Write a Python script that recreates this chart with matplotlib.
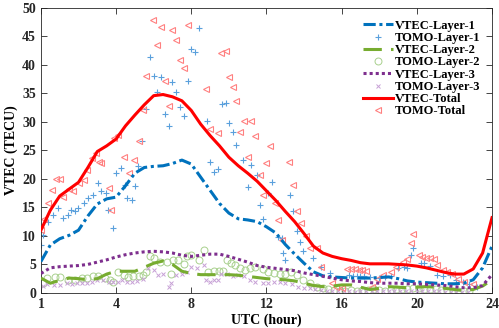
import numpy as np
import matplotlib
matplotlib.use("Agg")
import matplotlib.pyplot as plt

plt.rcParams['font.family'] = ['Liberation Serif', 'DejaVu Serif']
plt.rcParams['font.weight'] = 'bold'

# model curves, sampled every half hour (0..24 h)
t_line = np.arange(0, 24.5, 0.5)
vtec_total = [11.0, 14.5, 17.0, 18.2, 19.4, 22.0, 24.8, 25.8, 27.0, 29.3,
              31.2, 33.0, 34.6, 34.8, 34.4, 33.7, 32.0, 29.6, 27.6, 25.8,
              23.8, 22.3, 21.0, 19.6, 17.9, 16.2, 14.3, 12.5, 10.4, 8.2,
              7.0, 6.4, 6.0, 5.7, 5.3, 5.1, 5.1, 5.1, 5.0, 4.9,
              4.7, 4.4, 4.0, 3.6, 3.3, 3.3, 4.2, 7.0, 13.2]
vtec_l1 = [5.5, 8.4, 9.5, 10.1, 11.0, 13.5, 15.6, 16.5, 16.8, 18.8,
           21.0, 22.0, 22.2, 22.3, 22.7, 23.3, 22.6, 20.3, 18.0, 15.7,
           14.0, 13.0, 12.8, 12.5, 11.6, 10.5, 8.5, 6.8, 5.2, 3.7,
           3.0, 2.8, 2.7, 2.6, 2.6, 2.6, 2.7, 2.8, 2.5, 2.1,
           1.9, 1.8, 1.7, 1.6, 1.6, 1.7, 2.3, 4.4, 8.2]
vtec_l2 = [2.6, 1.7, 2.2, 2.6, 2.5, 2.3, 2.5, 3.3, 3.8, 3.8,
           3.8, 4.5, 5.2, 5.6, 5.0, 3.8, 3.4, 3.2, 3.2, 3.2,
           3.2, 3.1, 2.9, 2.7, 2.5, 2.4, 2.3, 2.1, 1.7, 1.3,
           1.1, 1.2, 1.4, 1.4, 1.0, 0.6, 0.8, 1.1, 1.0, 0.9,
           1.0, 1.1, 1.0, 0.8, 0.6, 0.4, 0.6, 1.2, 2.3]
vtec_l3 = [3.4, 4.4, 4.6, 4.7, 4.8, 5.0, 5.4, 5.8, 6.3, 6.7,
           7.0, 7.2, 7.3, 7.2, 7.0, 6.6, 6.4, 6.6, 6.8, 6.8,
           6.4, 5.9, 5.4, 4.8, 4.5, 4.3, 4.1, 3.9, 3.5, 3.2,
           2.9, 2.6, 2.3, 2.1, 2.0, 1.8, 1.7, 1.7, 1.7, 1.6,
           1.6, 1.5, 1.4, 1.3, 1.1, 0.9, 0.9, 1.3, 3.2]

# tomography estimates (hour, TECU)
tomo_total = [(0.0, 11.0), (0.15, 13.0), (0.4, 15.7), (0.6, 18.1), (0.8, 20.0), (1.0, 20.0),
              (1.2, 16.9), (1.5, 18.3), (1.7, 17.8), (2.0, 19.2), (2.3, 19.8), (2.45, 21.6),
              (2.7, 23.6), (2.95, 24.5), (3.1, 23.0), (3.2, 22.7), (3.6, 18.4), (3.75, 14.6),
              (3.9, 27.1), (4.1, 27.7), (4.4, 23.9), (4.7, 21.0), (4.95, 23.3), (5.2, 26.7),
              (5.45, 32.1), (5.6, 38.0), (5.97, 47.9), (6.2, 43.4), (6.4, 46.6), (6.6, 37.1),
              (6.8, 32.7), (7.0, 46.1), (7.2, 44.4), (7.4, 40.9), (7.6, 39.5), (7.8, 47.0),
              (8.8, 35.7), (9.0, 28.7), (9.4, 28.1), (9.6, 42.0), (9.85, 42.5), (10.0, 37.8),
              (10.2, 36.2), (10.4, 33.6), (10.6, 28.2), (10.8, 30.2), (11.0, 23.9), (11.2, 30.1),
              (11.4, 27.6), (11.65, 20.7), (11.8, 17.2), (12.0, 22.7), (12.2, 25.7), (12.45, 15.7),
              (12.6, 12.8), (12.8, 9.3), (13.2, 23.0), (13.4, 18.9), (13.6, 14.3), (13.85, 12.2),
              (14.1, 9.9), (14.3, 7.8), (14.7, 7.8), (14.9, 4.6), (15.5, 1.7), (15.7, 1.1),
              (16.0, 0.9), (16.3, 4.2), (16.5, 4.2), (16.7, 4.2), (16.9, 4.1), (17.1, 4.0),
              (17.3, 3.8), (17.6, 1.1), (17.9, 2.5), (18.2, 3.2), (18.6, 3.7), (18.9, 4.6),
              (19.25, 5.5), (19.5, 5.9), (19.7, 8.7), (19.8, 10.3), (20.1, 6.7), (20.3, 6.3),
              (20.5, 6.2), (20.7, 6.1), (20.9, 6.0), (21.05, 4.9), (21.4, 4.0), (21.6, 3.6),
              (21.85, 3.4), (22.2, 2.4), (22.5, 2.0), (23.0, 1.6)]
tomo_l1 = [(0.0, 8.4), (0.12, 10.2), (0.37, 12.5), (0.64, 13.7), (0.9, 14.9), (1.17, 13.1),
           (1.44, 13.7), (1.6, 14.6), (1.8, 14.3), (1.97, 14.9), (2.3, 15.7), (2.5, 16.6),
           (2.77, 17.2), (3.03, 19.2), (3.2, 17.8), (3.47, 17.5), (3.56, 14.6), (3.83, 11.3),
           (4.0, 21.0), (4.24, 21.9), (4.45, 18.9), (4.6, 16.6), (4.84, 16.3), (4.98, 18.7),
           (5.16, 22.2), (5.4, 26.7), (5.6, 32.2), (5.8, 41.3), (6.0, 38.1), (6.2, 35.2),
           (6.4, 37.8), (6.6, 31.4), (6.8, 29.2), (7.0, 37.0), (7.2, 35.3), (7.4, 32.6),
           (7.6, 31.1), (7.8, 37.2), (8.0, 42.7), (8.2, 42.2), (8.4, 46.4), (8.85, 30.1),
           (9.0, 22.9), (9.2, 21.2), (9.4, 21.7), (9.65, 33.1), (9.85, 33.3), (10.0, 29.8),
           (10.2, 28.2), (10.4, 25.9), (10.75, 23.3), (11.0, 18.5), (11.2, 22.5), (11.5, 20.7),
           (11.65, 15.4), (11.8, 12.9), (12.1, 17.5), (12.3, 19.5), (12.6, 9.8), (12.8, 9.6),
           (12.9, 7.0), (13.0, 5.8), (13.25, 17.2), (13.4, 14.3), (13.6, 10.8), (13.8, 9.0),
           (13.95, 7.4), (14.5, 6.1), (14.9, 4.5), (15.4, 3.5), (16.4, 3.1), (16.6, 3.0),
           (16.8, 3.0), (17.0, 2.9), (17.2, 2.9), (17.5, 2.8), (18.0, 2.6), (18.3, 2.8),
           (18.6, 2.9), (19.0, 4.3), (19.3, 4.6), (19.5, 4.4), (19.7, 6.7), (19.8, 7.8),
           (20.2, 5.2), (20.4, 5.2), (20.7, 4.7), (21.05, 3.2), (21.4, 2.9), (21.75, 3.2),
           (22.1, 2.3), (22.45, 1.9), (22.8, 1.6), (23.2, 1.1)]
tomo_l2 = [(0.1, 1.7), (0.35, 2.6), (0.74, 2.8), (1.0, 2.8), (1.45, 2.2), (1.8, 2.3),
           (2.16, 2.6), (2.45, 2.6), (2.78, 2.9), (3.05, 3.0), (3.4, 2.6), (3.7, 2.3),
           (3.85, 2.0), (4.1, 3.6), (4.4, 3.2), (4.65, 2.8), (4.9, 2.9), (5.2, 2.9),
           (5.45, 3.2), (5.6, 3.7), (5.8, 6.4), (6.0, 6.1), (6.35, 5.5), (6.7, 5.5),
           (6.9, 3.4), (7.05, 5.8), (7.3, 5.8), (7.6, 5.1), (7.75, 6.4), (8.0, 6.7),
           (8.4, 5.8), (8.65, 7.5), (8.9, 3.7), (9.2, 3.8), (9.45, 3.9), (9.7, 3.8),
           (9.9, 5.8), (10.1, 5.3), (10.3, 4.9), (10.6, 4.4), (10.85, 4.1), (11.1, 4.3),
           (11.4, 4.5), (11.8, 4.2), (12.1, 3.6), (12.4, 3.5), (12.7, 3.4), (13.0, 3.4),
           (13.3, 3.6), (13.6, 3.2), (13.95, 2.3), (14.3, 1.7), (14.7, 1.1), (15.0, 0.9),
           (15.3, 0.6), (15.6, 0.5), (15.9, 0.4), (16.2, 0.4), (16.5, 0.5), (16.8, 0.4),
           (17.1, 0.5), (17.4, 0.5), (17.7, 0.6), (18.0, 0.5), (18.3, 0.4), (18.6, 0.5),
           (18.9, 0.6), (19.2, 0.7), (19.5, 0.6), (19.8, 0.8), (20.1, 0.8), (20.4, 0.7),
           (20.7, 0.6), (21.0, 0.6), (21.3, 0.5), (21.6, 0.5), (21.9, 0.4), (22.2, 0.4),
           (22.5, 0.4), (22.8, 0.3)]
tomo_l3 = [(0.1, 1.2), (0.35, 1.5), (0.7, 1.3), (1.0, 1.4), (1.4, 1.7), (1.65, 1.6),
           (1.9, 1.8), (2.2, 1.7), (2.45, 1.7), (2.7, 1.9), (2.96, 2.3), (3.3, 2.3),
           (3.6, 2.0), (3.85, 1.9), (4.1, 2.0), (4.3, 2.2), (4.6, 1.9), (4.85, 1.9),
           (5.1, 2.1), (5.45, 2.4), (5.7, 4.3), (6.0, 4.1), (6.25, 3.2), (6.5, 3.4),
           (6.8, 1.0), (6.9, 1.7), (7.2, 3.2), (7.5, 3.4), (7.75, 3.7), (8.0, 4.5),
           (8.3, 4.3), (8.65, 4.9), (8.8, 2.3), (9.0, 2.0), (9.2, 2.2), (9.4, 2.2),
           (9.6, 3.4), (9.9, 3.3), (10.2, 3.0), (10.5, 3.2), (10.8, 2.9), (11.1, 2.3),
           (11.4, 2.0), (11.8, 1.8), (12.1, 1.7), (12.4, 1.9), (12.7, 1.9), (13.0, 1.7),
           (13.35, 1.5), (13.7, 1.1), (14.0, 0.9), (14.3, 0.8), (14.6, 0.6), (14.9, 0.5),
           (15.2, 0.4), (15.5, 0.3), (15.8, 0.3), (16.1, 0.3), (16.4, 0.3), (16.7, 0.2),
           (17.0, 0.3), (17.3, 0.3), (17.6, 0.3), (17.9, 0.3), (18.2, 0.3), (18.5, 0.3),
           (18.8, 0.3), (19.1, 0.4), (19.4, 0.4), (19.7, 0.4), (20.0, 0.4), (20.3, 0.3),
           (20.6, 0.3), (20.9, 0.3), (21.2, 0.3), (21.5, 0.2), (21.8, 0.2), (22.1, 0.2),
           (22.4, 0.2), (22.7, 0.2)]

x_ticks = [0, 4, 8, 12, 16, 20, 24]
x_labels = ['1', '4', '8', '12', '16', '20', '24']

fig = plt.figure(figsize=(4.99, 3.28), dpi=100)
ax = fig.add_axes([0.082, 0.107, 0.904, 0.869])

def pts(p):
    a = np.array(p)
    return a[:, 0], a[:, 1]

ms = 4
ax.plot(t_line, vtec_l1, color='#0072BD', lw=2.2, ls=(0, (4, 1.2, 1, 1.2)), label='VTEC-Layer-1', zorder=3)
ax.plot(*pts(tomo_l1), ls='none', marker='+', ms=ms + 1, mew=0.8, color='#5AA0DC', label='TOMO-Layer-1', zorder=2)
ax.plot(t_line, vtec_l2, color='#77AC30', lw=2.2, ls=(0, (6, 3)), label='VTEC-Layer-2', zorder=3)
ax.plot(*pts(tomo_l2), ls='none', marker='o', ms=ms + 1, mew=0.7, mfc='none', color='#A8D08D', label='TOMO-Layer-2', zorder=2)
ax.plot(t_line, vtec_l3, color='#7E2F8E', lw=2.2, ls=(0, (1, 1)), label='VTEC-Layer-3', zorder=3)
ax.plot(*pts(tomo_l3), ls='none', marker='x', ms=ms - 1, mew=0.7, color='#C7A0D6', label='TOMO-Layer-3', zorder=2)
ax.plot(t_line, vtec_total, color='#FF0000', lw=2.2, label='VTEC-Total', zorder=3)
ax.plot(*pts(tomo_total), ls='none', marker='<', ms=ms + 1, mew=0.8, mfc='none', color='#FF8080', label='TOMO-Total', zorder=2)

ax.set_xlim(0, 24)
ax.set_ylim(0, 50)
ax.set_xticks(x_ticks)
ax.set_xticklabels(x_labels)
ax.set_yticks(range(0, 51, 5))
ax.tick_params(direction='in', top=True, right=True, labelsize=10, colors='#262626', length=4, width=0.6)
for lbl in ax.get_xticklabels() + ax.get_yticklabels():
    lbl.set_fontweight('bold')
for s in ax.spines.values():
    s.set_color('#262626')
    s.set_linewidth(0.6)
ax.set_xlabel('UTC (hour)', fontsize=10, fontweight='bold', labelpad=2)
ax.set_ylabel('VTEC (TECU)', fontsize=10, fontweight='bold', labelpad=3)

leg = ax.legend(loc='upper right', bbox_to_anchor=(0.99, 0.985), frameon=False, handlelength=2.4,
                handletextpad=0.1, labelspacing=0.02, borderaxespad=0.2,
                prop={'weight': 'bold', 'size': 9})

fig.savefig('out.png', dpi=100)
